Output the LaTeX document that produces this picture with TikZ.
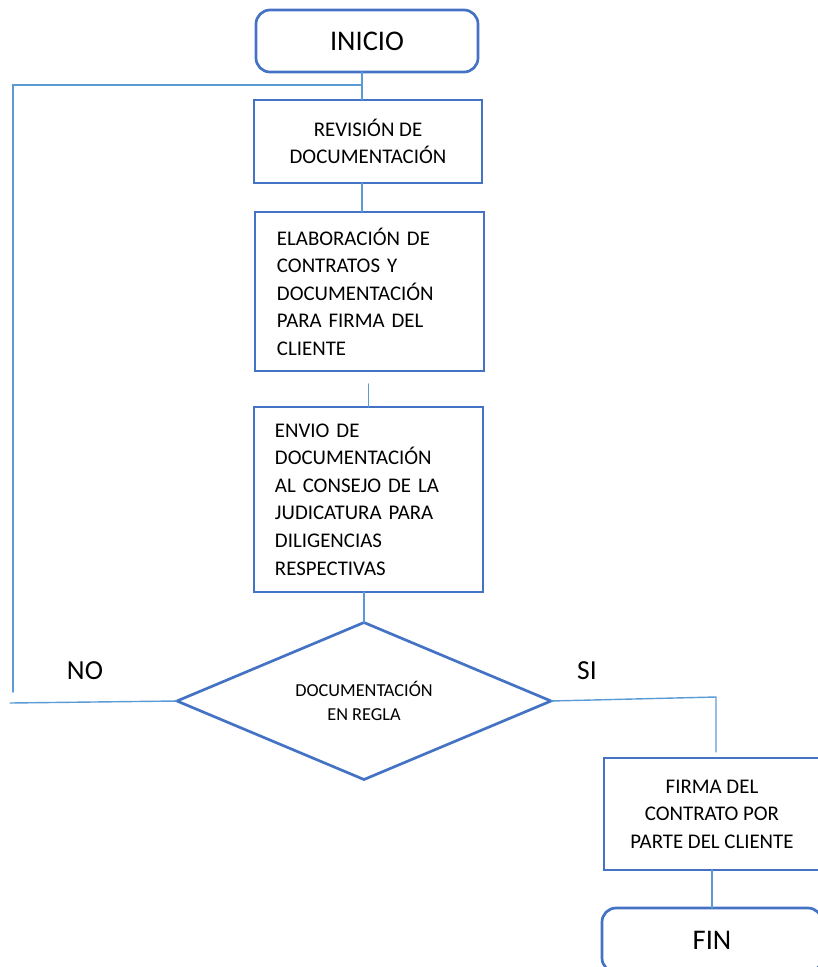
\documentclass[tikz,border=0pt]{standalone}
\usepackage{fontspec}
\setmainfont{Carlito}
\usepackage{tikz}
\usetikzlibrary{shapes.geometric}
\usepackage{xcolor}
\definecolor{cajaazul}{HTML}{4472C4}
\definecolor{lineaazul}{HTML}{5B9BD5}

\begin{document}
\begin{tikzpicture}[x=0.03cm,y=-0.03cm,line cap=round,
  caja/.style={draw=cajaazul,line width=2.3pt,outer sep=0pt,fill=white},
  texto/.style={font=\fontsize{17.8}{23.5}\selectfont},
  linea/.style={draw=lineaazul,line width=1.2pt},
  grande/.style={font=\fontsize{24.3}{28}\selectfont}]
\useasboundingbox (0,0) rectangle (818,967);
\clip (0,0) rectangle (818,967);
% bloques del proceso
\node[caja,grande,rounded corners=0.42cm,minimum width=6.66cm,minimum height=1.86cm] (inicio) at (367,41) {INICIO};
\node[caja,texto,align=center,minimum width=6.84cm,minimum height=2.49cm] (revision) at (368,141.5) {REVISIÓN DE\\DOCUMENTACIÓN};
\node[caja,texto,align=left,text width=5.55cm,inner xsep=0.66cm,minimum height=4.77cm] (elaboracion) at (369.5,291.5)
  {ELABORACIÓN DE\\CONTRATOS Y\\DOCUMENTACIÓN\\PARA FIRMA DEL\\CLIENTE};
\node[caja,texto,align=left,text width=5.61cm,inner xsep=0.63cm,minimum height=5.55cm] (envio) at (368.5,499.5)
  {ENVIO DE\\DOCUMENTACIÓN\\AL CONSEJO DE LA\\JUDICATURA PARA\\DILIGENCIAS\\RESPECTIVAS};
\node[caja,diamond,aspect=2.38,inner sep=0pt,align=center,font=\fontsize{15.6}{21}\selectfont,minimum width=11.22cm,minimum height=4.71cm] (rombo) at (364,701)
  {DOCUMENTACIÓN\\EN REGLA};
\node[caja,texto,align=center,minimum width=6.48cm,minimum height=3.36cm] (firma) at (712,814)
  {FIRMA DEL\\CONTRATO POR\\PARTE DEL CLIENTE};
\node[caja,grande,rounded corners=0.42cm,minimum width=6.6cm,minimum height=1.92cm] (fin) at (712,940) {FIN};
% etiquetas
\node[font=\fontsize{23.5}{28}\selectfont] (no) at (85,671) {NO};
\node[font=\fontsize{23.5}{28}\selectfont] (si) at (587,671) {SI};
% puntos de los conectores
\coordinate (retorno) at (362,85);
\coordinate (noarriba) at (13,692);
\coordinate (noabajo) at (10,703);
\coordinate (siesquina) at (716,697);
% conectores
\draw[linea] (retorno |- inicio.south) -- (retorno |- revision.north);
\draw[linea] (retorno |- revision.south) -- (retorno |- elaboracion.north);
\draw[linea] ([yshift=-0.39cm]envio.north |- elaboracion.south) -- (envio.north);
\draw[linea] (rombo.north |- envio.south) -- (rombo.north);
\draw[linea] (rombo.west) -- (noabajo);
\draw[linea] (noarriba) |- (retorno);
\draw[linea] (rombo.east) -- (siesquina) -- ([yshift=0.18cm]siesquina |- firma.north);
\draw[linea] (firma.south) -- (fin.north);
\end{tikzpicture}
\end{document}
